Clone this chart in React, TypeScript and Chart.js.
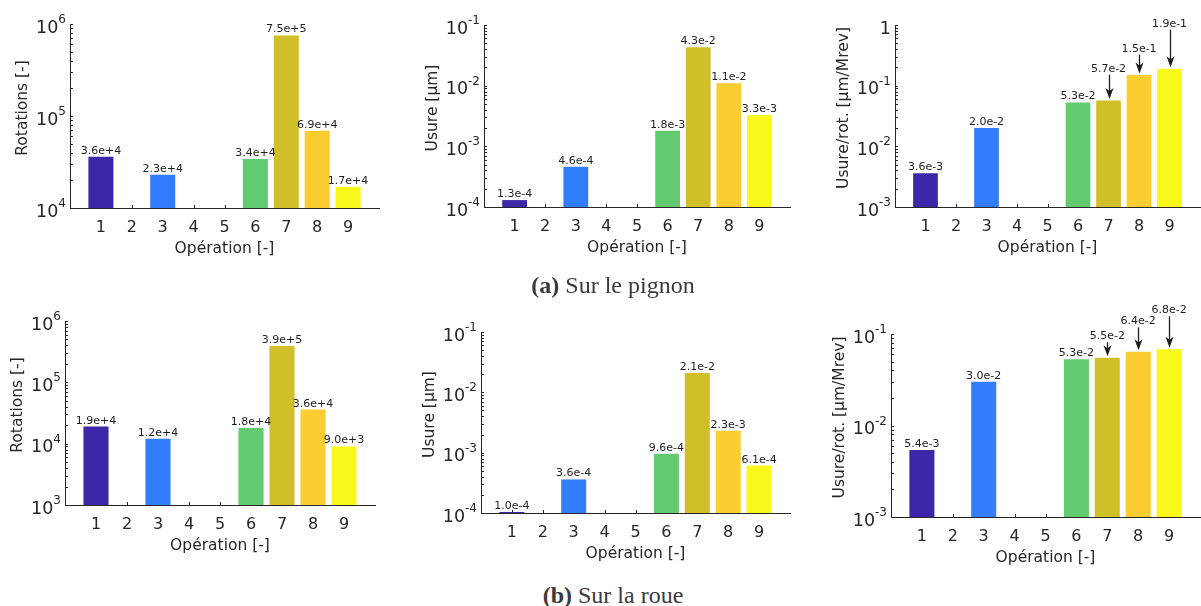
import React, { useEffect, useRef } from 'react';
import { Chart, registerables } from 'chart.js';

Chart.register(...registerables);

const FONT = "'DejaVu Sans', sans-serif";
const AXIS_COLOR = '#262626';
const VALUE_COLOR = '#1e1e1e';

// ---------- data ----------
const operations = [1, 2, 3, 4, 5, 6, 7, 8, 9];
const operationColors = [
  '#3e26a8', '#4354e0', '#327dfd', '#1fa8d8', '#2fbfa6', '#62cb6f', '#d1bf29', '#fbcd31', '#f8f81a',
];

// (a) Sur le pignon
const pignonRotations = [3.6e4, null, 2.3e4, null, null, 3.4e4, 7.5e5, 6.9e4, 1.7e4];
const pignonUsure = [1.3e-4, null, 4.6e-4, null, null, 1.8e-3, 4.3e-2, 1.1e-2, 3.3e-3];
const pignonUsureRot = [3.6e-3, null, 2.0e-2, null, null, 5.3e-2, 5.7e-2, 1.5e-1, 1.9e-1];
const pignonArrowLabelAt = [null, null, null, null, null, null, 0.17, 0.364, 0.94];

// (b) Sur la roue
const roueRotations = [1.9e4, null, 1.2e4, null, null, 1.8e4, 3.9e5, 3.6e4, 9.0e3];
const roueUsure = [1.04e-4, null, 3.6e-4, null, null, 9.6e-4, 2.1e-2, 2.3e-3, 6.1e-4];
const roueUsureRot = [5.4e-3, null, 3.0e-2, null, null, 5.3e-2, 5.5e-2, 6.4e-2, 6.8e-2];
const roueArrowLabelAt = [null, null, null, null, null, null, 0.0875, 0.1277, 0.1686];

const xTitle = 'Opération [-]';
const captionA = ['(a)', ' Sur le pignon'];
const captionB = ['(b)', ' Sur la roue'];

// ---------- layout ----------
type Box = { left: number; top: number; width: number; height: number };
type Area = { l: number; t: number; r: number; b: number };
type Spec = {
  values: (number | null)[];
  arrowLabelAt?: (number | null)[];
  yMin: number;
  yMax: number;
  yTitle: string;
  box: Box;
  area: Area;
};

const specs: Spec[] = [
  {
    values: pignonRotations, yMin: 1e4, yMax: 1e6, yTitle: 'Rotations [-]',
    box: { left: 0, top: 0, width: 400, height: 258 }, area: { l: 70, t: 24, r: 379, b: 208 },
  },
  {
    values: pignonUsure, yMin: 1e-4, yMax: 1e-1, yTitle: 'Usure [µm]',
    box: { left: 400, top: 0, width: 400, height: 257 }, area: { l: 484, t: 25, r: 793, b: 207 },
  },
  {
    values: pignonUsureRot, arrowLabelAt: pignonArrowLabelAt, yMin: 1e-3, yMax: 1, yTitle: 'Usure/rot. [µm/Mrev]',
    box: { left: 800, top: 0, width: 410, height: 257 }, area: { l: 895, t: 25, r: 1204, b: 207 },
  },
  {
    values: roueRotations, yMin: 1e3, yMax: 1e6, yTitle: 'Rotations [-]',
    box: { left: 0, top: 295, width: 400, height: 260 }, area: { l: 65, t: 321, r: 375, b: 505 },
  },
  {
    values: roueUsure, yMin: 1e-4, yMax: 1e-1, yTitle: 'Usure [µm]',
    box: { left: 400, top: 295, width: 400, height: 268 }, area: { l: 481, t: 332, r: 790, b: 513 },
  },
  {
    values: roueUsureRot, arrowLabelAt: roueArrowLabelAt, yMin: 1e-3, yMax: 1e-1, yTitle: 'Usure/rot. [µm/Mrev]',
    box: { left: 800, top: 295, width: 410, height: 272 }, area: { l: 891, t: 334, r: 1200, b: 517 },
  },
];

function decorPlugin(spec: Spec, idxMap: number[]) {
  return {
    id: 'decor',
    beforeDatasetsDraw(chart: any) {
      const ctx: CanvasRenderingContext2D = chart.ctx;
      const xs = chart.scales.x;
      const ys = chart.scales.y;
      const { left, bottom, top } = chart.chartArea;
      ctx.save();
      ctx.strokeStyle = AXIS_COLOR;
      ctx.lineWidth = 1;
      ctx.beginPath();
      for (const op of operations) {
        const px = Math.round(xs.getPixelForValue(op)) + 0.5;
        ctx.moveTo(px, bottom);
        ctx.lineTo(px, bottom - 3);
      }
      const e0 = Math.round(Math.log10(ys.min));
      const e1 = Math.round(Math.log10(ys.max));
      for (let e = e0; e <= e1; e++) {
        for (let m = 1; m <= 9; m++) {
          const v = m * Math.pow(10, e);
          if (v > ys.max * 1.0001) break;
          const py = Math.round(ys.getPixelForValue(v)) + 0.5;
          ctx.moveTo(left, py);
          ctx.lineTo(left + 3, py);
        }
      }
      ctx.stroke();

      // y tick labels (10^k)
      ctx.fillStyle = AXIS_COLOR;
      ctx.textAlign = 'right';
      ctx.textBaseline = 'middle';
      const gap = 4;
      let minLeft = left;
      for (let e = e0; e <= e1; e++) {
        const py = ys.getPixelForValue(Math.pow(10, e));
        const xr = left - gap;
        if (e === 0) {
          ctx.font = `17.5px ${FONT}`;
          ctx.fillText('1', xr, py + 4);
          minLeft = Math.min(minLeft, xr - ctx.measureText('1').width);
        } else {
          const exp = String(e);
          ctx.font = `12px ${FONT}`;
          const ew = ctx.measureText(exp).width;
          ctx.fillText(exp, xr, py - 4);
          ctx.font = `17.5px ${FONT}`;
          ctx.fillText('10', xr - ew, py + 4);
          minLeft = Math.min(minLeft, xr - ew - ctx.measureText('10').width);
        }
      }

      // y title
      ctx.save();
      ctx.translate(minLeft - 13, (top + bottom) / 2 - 8);
      ctx.rotate(-Math.PI / 2);
      ctx.textAlign = 'center';
      ctx.textBaseline = 'middle';
      ctx.font = `15.5px ${FONT}`;
      ctx.fillText(spec.yTitle, 0, 0);
      ctx.restore();
      ctx.restore();
    },
    afterDatasetsDraw(chart: any) {
      const ctx: CanvasRenderingContext2D = chart.ctx;
      const ys = chart.scales.y;
      const meta = chart.getDatasetMeta(0);
      ctx.save();
      ctx.font = `11px ${FONT}`;
      ctx.fillStyle = VALUE_COLOR;
      ctx.strokeStyle = VALUE_COLOR;
      ctx.textAlign = 'center';
      ctx.textBaseline = 'alphabetic';
      meta.data.forEach((el: any, k: number) => {
        const i = idxMap[k];
        const v = spec.values[i] as number;
        const text = v.toExponential(1);
        const la = spec.arrowLabelAt ? spec.arrowLabelAt[i] : null;
        if (la != null) {
          const ty = ys.getPixelForValue(la);
          ctx.fillText(text, el.x, ty);
          const tip = el.y - 1.5;
          const x = Math.round(el.x) + 0.5;
          ctx.lineWidth = 1.3;
          ctx.beginPath();
          ctx.moveTo(x, ty + 3);
          ctx.lineTo(x, tip - 5);
          ctx.stroke();
          ctx.beginPath();
          ctx.moveTo(x, tip);
          ctx.lineTo(x - 4, tip - 11);
          ctx.lineTo(x, tip - 8);
          ctx.lineTo(x + 4, tip - 11);
          ctx.closePath();
          ctx.fill();
        } else {
          ctx.fillText(text, el.x, el.y - 3);
        }
      });
      ctx.restore();
    },
  };
}

function Panel({ spec }: { spec: Spec }) {
  const ref = useRef<HTMLCanvasElement>(null);
  useEffect(() => {
    const idxMap: number[] = [];
    const points: { x: number; y: number }[] = [];
    const colors: string[] = [];
    operations.forEach((op, i) => {
      const v = spec.values[i];
      if (v != null) {
        idxMap.push(i);
        points.push({ x: op, y: v });
        colors.push(operationColors[i]);
      }
    });
    const { box, area } = spec;
    const chart = new Chart(ref.current as HTMLCanvasElement, {
      type: 'bar',
      data: {
        datasets: [
          {
            data: points as any,
            backgroundColor: colors,
            borderWidth: 0,
            barPercentage: 0.81,
            categoryPercentage: 1,
          },
        ],
      },
      options: {
        animation: false,
        responsive: false,
        maintainAspectRatio: false,
        devicePixelRatio: 1,
        layout: {
          padding: { left: 0, top: area.t - box.top, right: box.left + box.width - area.r, bottom: 0 },
        },
        plugins: { legend: { display: false }, tooltip: { enabled: false } },
        scales: {
          x: {
            type: 'linear',
            min: 0,
            max: 10,
            offset: false,
            grid: { display: false, drawTicks: false },
            border: { display: true, color: AXIS_COLOR, width: 1 },
            ticks: {
              stepSize: 1,
              autoSkip: false,
              maxRotation: 0,
              padding: 10,
              color: AXIS_COLOR,
              font: { family: FONT, size: 16 },
              callback: (v: any) => (v >= 1 && v <= 9 ? String(v) : ''),
            },
            title: {
              display: true,
              text: xTitle,
              color: AXIS_COLOR,
              font: { family: FONT, size: 15.5 },
              padding: { top: 0, bottom: 0 },
            },
            afterFit: (s: any) => {
              s.height = box.top + box.height - area.b;
            },
          },
          y: {
            type: 'logarithmic',
            min: spec.yMin,
            max: spec.yMax,
            grid: { display: false, drawTicks: false },
            border: { display: true, color: AXIS_COLOR, width: 1 },
            ticks: { display: false },
            afterFit: (s: any) => {
              s.width = area.l - box.left;
            },
          },
        },
      } as any,
      plugins: [decorPlugin(spec, idxMap)],
    });
    return () => chart.destroy();
  }, [spec]);
  return (
    <canvas
      ref={ref}
      width={spec.box.width}
      height={spec.box.height}
      style={{
        position: 'absolute',
        left: spec.box.left,
        top: spec.box.top,
        width: spec.box.width,
        height: spec.box.height,
      }}
    />
  );
}

function Caption({ parts, centerY }: { parts: string[]; centerY: number }) {
  return (
    <div
      style={{
        position: 'absolute',
        left: 313,
        width: 600,
        top: centerY - 14,
        height: 28,
        lineHeight: '28px',
        textAlign: 'center',
        fontFamily: "'Liberation Serif', serif",
        fontSize: 24,
        color: '#3a3a3a',
      }}
    >
      <b>{parts[0]}</b>
      {parts[1]}
    </div>
  );
}

export default function App() {
  return (
    <div
      style={{
        position: 'fixed',
        left: 0,
        top: 0,
        width: 1201,
        height: 606,
        background: '#ffffff',
        overflow: 'hidden',
      }}
    >
      {specs.map((s, i) => (
        <Panel key={i} spec={s} />
      ))}
      <Caption parts={captionA} centerY={285} />
      <Caption parts={captionB} centerY={595} />
    </div>
  );
}
